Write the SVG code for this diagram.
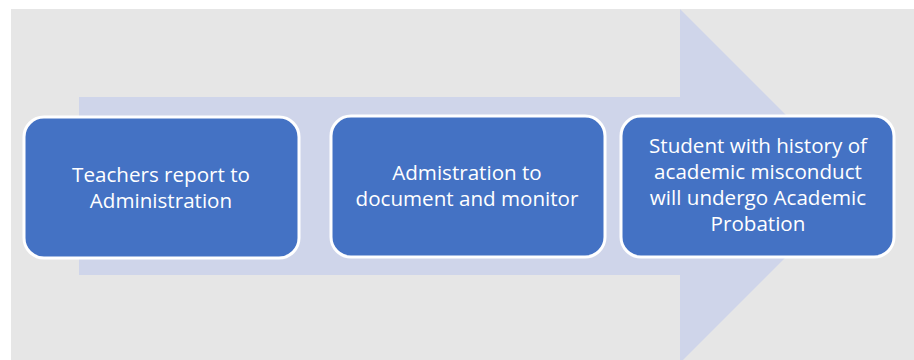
<svg xmlns="http://www.w3.org/2000/svg" width="914" height="360" viewBox="0 0 914 360">
<style>
.box{fill:#4472c4;stroke:#ffffff;stroke-width:3}
.lbl{font-family:"Open Sans","Liberation Sans",sans-serif;font-size:20.6px;fill:#ffffff;text-anchor:middle}
</style>
<rect x="0" y="0" width="914" height="360" fill="#ffffff"/>
<rect x="11" y="9" width="903" height="351" fill="#e6e6e6"/>
<polygon points="79,97 680,97 680,9 857,186 680,363 680,275 79,275" fill="#cfd5ea"/>
<g id="node1">
<rect class="box" x="24" y="117" width="275" height="141" rx="20"/>
<text class="lbl" x="161" y="182">Teachers report to</text>
<text class="lbl" x="161" y="208">Administration</text>
</g>
<g id="node2">
<rect class="box" x="331" y="116" width="274" height="141" rx="20"/>
<text class="lbl" x="467" y="180">Admistration to</text>
<text class="lbl" x="467" y="206">document and monitor</text>
</g>
<g id="node3">
<rect class="box" x="621" y="116" width="273" height="141" rx="20"/>
<text class="lbl" x="758" y="153">Student with history of</text>
<text class="lbl" x="758" y="179">academic misconduct</text>
<text class="lbl" x="758" y="205">will undergo Academic</text>
<text class="lbl" x="758" y="231">Probation</text>
</g>
<g id="connectors"></g>
</svg>
